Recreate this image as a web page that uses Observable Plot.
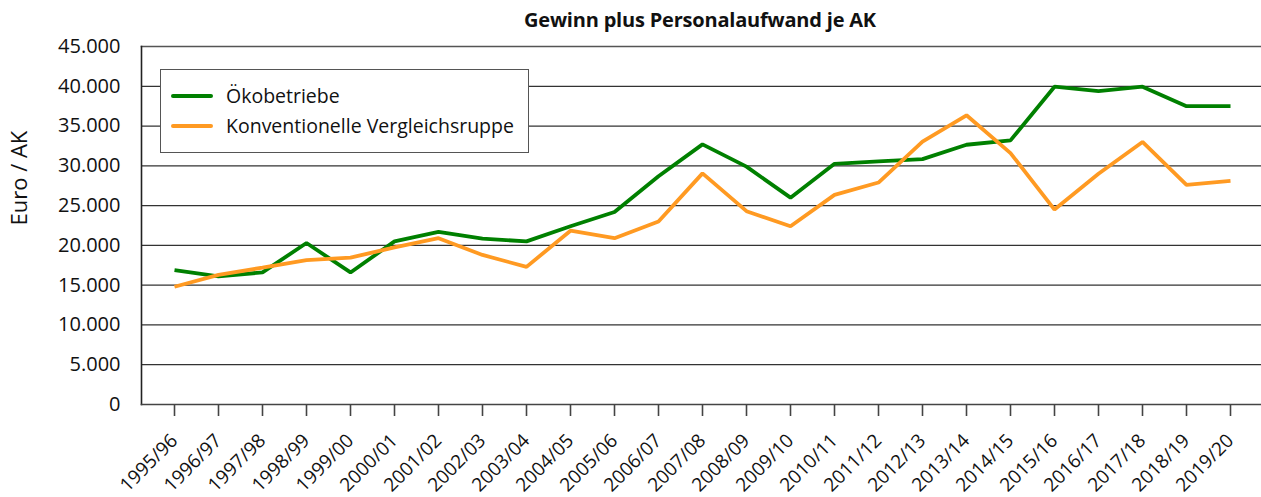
<!DOCTYPE html>
<html>
<head>
<meta charset="utf-8">
<script src="https://cdn.jsdelivr.net/npm/d3@7"></script>
<script src="https://cdn.jsdelivr.net/npm/@observablehq/plot@0.6"></script>
<style>
  html, body { margin: 0; padding: 0; background: #fff; }
  #wrap { position: relative; width: 1261px; height: 497px; overflow: hidden; font-family: "Open Sans", "Liberation Sans", sans-serif; }
  #title { position: absolute; left: 0; width: 1400px; top: 6px; text-align: center; font-weight: bold; font-size: 20px; color: #111; letter-spacing: -0.2px; }
  #legend { position: absolute; left: 160px; top: 69px; width: 369px; height: 84px; border: 1px solid #555; background: #fff; box-sizing: border-box; }
  .li { position: absolute; left: 10px; display: flex; align-items: center; font-size: 19.5px; color: #111; white-space: nowrap; }
  .sw { width: 42px; height: 4px; border-radius: 2px; margin-right: 13px; }
</style>
</head>
<body>
<div id="wrap">
  <div id="chart"></div>
  <div id="title">Gewinn plus Personalaufwand je AK</div>
  <div id="legend"></div>
</div>
<script>
const years = ["1995/96","1996/97","1997/98","1998/99","1999/00","2000/01","2001/02","2002/03","2003/04","2004/05","2005/06","2006/07","2007/08","2008/09","2009/10","2010/11","2011/12","2012/13","2013/14","2014/15","2015/16","2016/17","2017/18","2018/19","2019/20"];
const oeko = [16900,16100,16600,20300,16600,20500,21700,20850,20500,22400,24200,28700,32700,29900,26000,30250,30550,30850,32650,33200,39950,39400,39950,37500,37500];
const konv = [14800,16300,17200,18150,18450,19750,20900,18800,17300,21850,20900,23000,29050,24300,22400,26350,27900,33050,36350,31600,24500,29000,33000,27600,28100];
const seriesNames = ["Ökobetriebe", "Konventionelle Vergleichsruppe"];
const seriesColors = ["#008000", "#ff9a22"];
const yTicks = [0,5000,10000,15000,20000,25000,30000,35000,40000,45000];

const de = d3.formatLocale({decimal: ",", thousands: ".", grouping: [3], currency: ["", " €"]});
const fmt = de.format(",d");

const rows = [];
years.forEach((y, i) => {
  rows.push({year: y, value: oeko[i], series: seriesNames[0]});
  rows.push({year: y, value: konv[i], series: seriesNames[1]});
});

const chart = Plot.plot({
  width: 1261,
  height: 497,
  marginLeft: 141,
  marginRight: 0,
  marginTop: 46,
  marginBottom: 93,
  style: {fontFamily: "'Open Sans', 'Liberation Sans', sans-serif", background: "#fff", overflow: "visible"},
  x: {type: "point", domain: years, padding: 0, insetLeft: 22, insetRight: 21, label: null},
  y: {domain: [0, 45000], label: null},
  color: {domain: seriesNames, range: seriesColors},
  marks: [
    Plot.ruleY(yTicks, {stroke: "#333", strokeWidth: 1.2}),
    Plot.frame({anchor: "top", stroke: "#555", strokeWidth: 1.6}),
    Plot.frame({anchor: "left", stroke: "#222", strokeWidth: 1.6}),
    Plot.frame({anchor: "bottom", stroke: "#444", strokeWidth: 1.6}),
    Plot.axisY({ticks: yTicks, tickFormat: fmt, tickSize: 0, tickPadding: 21, fontSize: 20, fill: "#111", label: null}),
    Plot.axisX({tickSize: 12, tickRotate: -45, fontSize: 19, fill: "#111", tickPadding: 21, label: null, stroke: "#444", strokeWidth: 1.6}),
    Plot.text(["Euro / AK"], {frameAnchor: "left", dx: -122, rotate: -90, fontSize: 22, fill: "#111"}),
    Plot.line(rows, {x: "year", y: "value", z: "series", stroke: "series", strokeWidth: 3.8, strokeLinejoin: "miter", strokeLinecap: "butt"})
  ]
});
document.getElementById("chart").appendChild(chart);

const legend = document.getElementById("legend");
seriesNames.forEach((n, i) => {
  const d = document.createElement("div");
  d.className = "li";
  d.style.top = (i === 0 ? 12 : 42) + "px";
  d.innerHTML = `<span class="sw" style="background:${seriesColors[i]}"></span><span>${n}</span>`;
  legend.appendChild(d);
});
</script>
</body>
</html>
